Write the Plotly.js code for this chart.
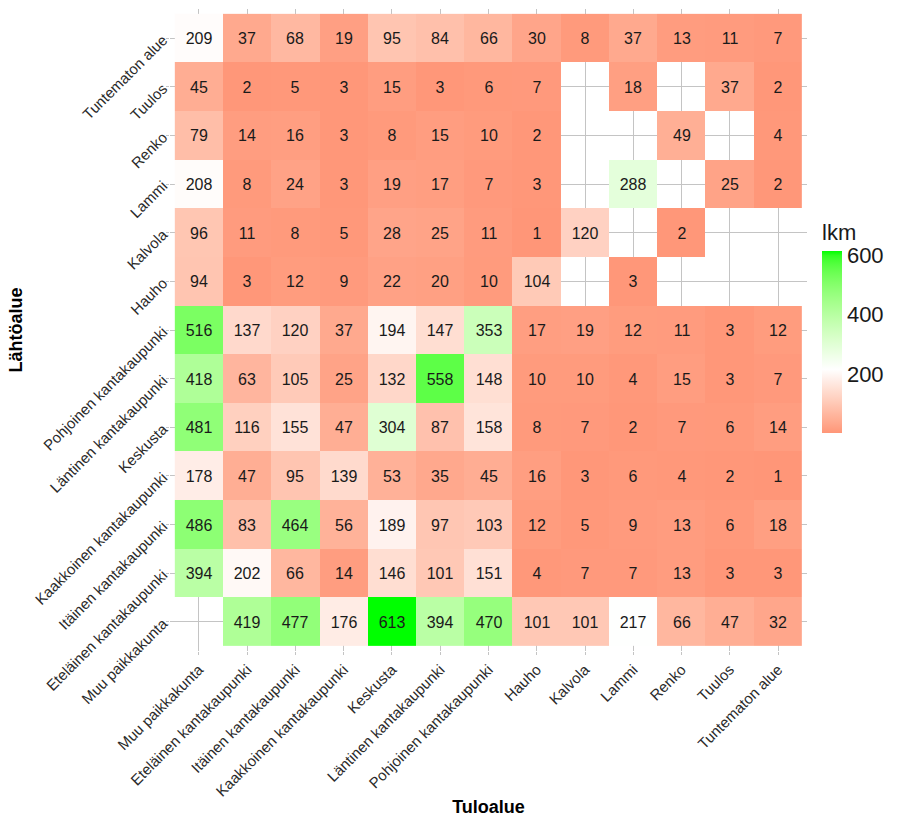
<!DOCTYPE html>
<html>
<head>
<meta charset="utf-8">
<script src="https://cdn.plot.ly/plotly-3.0.1.min.js"></script>
<style>html,body{margin:0;padding:0;background:#fff;}#chart{width:897px;height:817px;}</style>
</head>
<body>
<div id="chart"></div>
<script>
// Categories (Tuloalue = destination along x, Lähtöalue = origin along y, bottom to top)
const areas = ["Muu paikkakunta", "Eteläinen kantakaupunki", "Itäinen kantakaupunki",
  "Kaakkoinen kantakaupunki", "Keskusta", "Läntinen kantakaupunki", "Pohjoinen kantakaupunki",
  "Hauho", "Kalvola", "Lammi", "Renko", "Tuulos", "Tuntematon alue"];

// Counts (lkm) by origin row, in the order of the destination categories above
const fromMuuPaikkakunta   = [null, 419, 477, 176, 613, 394, 470, 101, 101, 217, 66, 47, 32];
const fromEtelainen        = [394, 202, 66, 14, 146, 101, 151, 4, 7, 7, 13, 3, 3];
const fromItainen          = [486, 83, 464, 56, 189, 97, 103, 12, 5, 9, 13, 6, 18];
const fromKaakkoinen       = [178, 47, 95, 139, 53, 35, 45, 16, 3, 6, 4, 2, 1];
const fromKeskusta         = [481, 116, 155, 47, 304, 87, 158, 8, 7, 2, 7, 6, 14];
const fromLantinen         = [418, 63, 105, 25, 132, 558, 148, 10, 10, 4, 15, 3, 7];
const fromPohjoinen        = [516, 137, 120, 37, 194, 147, 353, 17, 19, 12, 11, 3, 12];
const fromHauho            = [94, 3, 12, 9, 22, 20, 10, 104, null, 3, null, null, null];
const fromKalvola          = [96, 11, 8, 5, 28, 25, 11, 1, 120, null, 2, null, null];
const fromLammi            = [208, 8, 24, 3, 19, 17, 7, 3, null, 288, null, 25, 2];
const fromRenko            = [79, 14, 16, 3, 8, 15, 10, 2, null, null, 49, null, 4];
const fromTuulos           = [45, 2, 5, 3, 15, 3, 6, 7, null, 18, null, 37, 2];
const fromTuntematon       = [209, 37, 68, 19, 95, 84, 66, 30, 8, 37, 13, 11, 7];

const z = [fromMuuPaikkakunta, fromEtelainen, fromItainen, fromKaakkoinen, fromKeskusta,
  fromLantinen, fromPohjoinen, fromHauho, fromKalvola, fromLammi, fromRenko, fromTuulos, fromTuntematon];
const textLabels = z.map(r => r.map(v => v === null ? "" : String(v)));

// Diverging gradient (low - white - high) interpolated in CIE Lab
const flat = z.flat().filter(v => v !== null);
const zMin = Math.min(...flat), zMax = Math.max(...flat);
const midVal = 215;
function toLin(c){c/=255;return c<=0.04045?c/12.92:Math.pow((c+0.055)/1.055,2.4);}
function fromLin(c){c=c<=0.0031308?12.92*c:1.055*Math.pow(c,1/2.4)-0.055;return Math.round(Math.max(0,Math.min(1,c))*255);}
const Xn=0.95047,Yn=1,Zn=1.08883;
function f(t){return t>0.008856?Math.cbrt(t):7.787*t+16/116;}
function finv(t){const t3=t*t*t;return t3>0.008856?t3:(t-16/116)/7.787;}
function rgb2lab(rgb){const R=toLin(rgb[0]),G=toLin(rgb[1]),B=toLin(rgb[2]);
  const X=0.4124*R+0.3576*G+0.1805*B,Y=0.2126*R+0.7152*G+0.0722*B,Zc=0.0193*R+0.1192*G+0.9505*B;
  const fx=f(X/Xn),fy=f(Y/Yn),fz=f(Zc/Zn);return [116*fy-16,500*(fx-fy),200*(fy-fz)];}
function lab2rgb(lab){const fy=(lab[0]+16)/116,fx=fy+lab[1]/500,fz=fy-lab[2]/200;
  const X=Xn*finv(fx),Y=Yn*finv(fy),Zc=Zn*finv(fz);
  const R=3.2406*X-1.5372*Y-0.4986*Zc,G=-0.9689*X+1.8758*Y+0.0415*Zc,B=0.0557*X-0.2040*Y+1.0570*Zc;
  return 'rgb('+fromLin(R)+','+fromLin(G)+','+fromLin(B)+')';}
const labLow=rgb2lab([255,0,0]),labMid=rgb2lab([255,255,255]),labHigh=rgb2lab([0,255,0]);
const span=Math.max(midVal-zMin,zMax-midVal);
function colorAt(v){const t=(v-midVal)/span;const end=t<0?labLow:labHigh;const k=Math.abs(t);
  return lab2rgb([0,1,2].map(i=>labMid[i]+(end[i]-labMid[i])*k));}
const colorscale=[];
const N=40;
for(let i=0;i<=N;i++){const v=zMin+(zMax-zMin)*i/N;colorscale.push([i/N,colorAt(v)]);}

const FONT = 'Liberation Sans, Arial, sans-serif';

const trace = {
  type: 'heatmap',
  x: areas, y: areas, z: z,
  zmin: zMin, zmax: zMax,
  colorscale: colorscale,
  text: textLabels,
  texttemplate: '%{text}',
  textfont: {family: FONT, size: 16, color: '#1a1a1a'},
  hoverongaps: false,
  colorbar: {
    title: {text: 'lkm', side: 'top', font: {family: FONT, size: 22, color: '#1a1a1a'}},
    thickness: 20, thicknessmode: 'pixels',
    len: 212, lenmode: 'pixels',
    x: 1.0236, xanchor: 'left', xpad: 0,
    y: 0.5047, yanchor: 'middle', ypad: 0,
    tickvals: [200, 400, 600],
    ticks: '', outlinewidth: 0,
    tickfont: {family: FONT, size: 22, color: '#1a1a1a'}
  }
};

const axisCommon = {
  type: 'category', categoryorder: 'array', categoryarray: areas,
  range: [-0.6, 12.6], autorange: false,
  showgrid: true, gridcolor: '#c4c4c4', gridwidth: 1,
  zeroline: false, showline: false,
  ticks: 'outside', ticklen: 3, tickcolor: '#c4c4c4',
  tickangle: -45,
  tickfont: {family: FONT, size: 15, color: '#2a2a2a'},
  automargin: false
};

const layout = {
  width: 897, height: 817,
  margin: {l: 170, r: 90, t: 9, b: 166},
  paper_bgcolor: '#ffffff', plot_bgcolor: '#ffffff',
  font: {family: FONT},
  xaxis: Object.assign({}, axisCommon, {
    title: {text: 'Tuloalue', standoff: 6, font: {family: FONT, size: 18, color: '#000', weight: 'bold'}}
  }),
  yaxis: Object.assign({}, axisCommon, {
    title: {text: 'Lähtöalue', standoff: 4, font: {family: FONT, size: 18, color: '#000', weight: 'bold'}}
  })
};

Plotly.newPlot('chart', [trace], layout, {displayModeBar: false, staticPlot: true});
</script>
</body>
</html>
